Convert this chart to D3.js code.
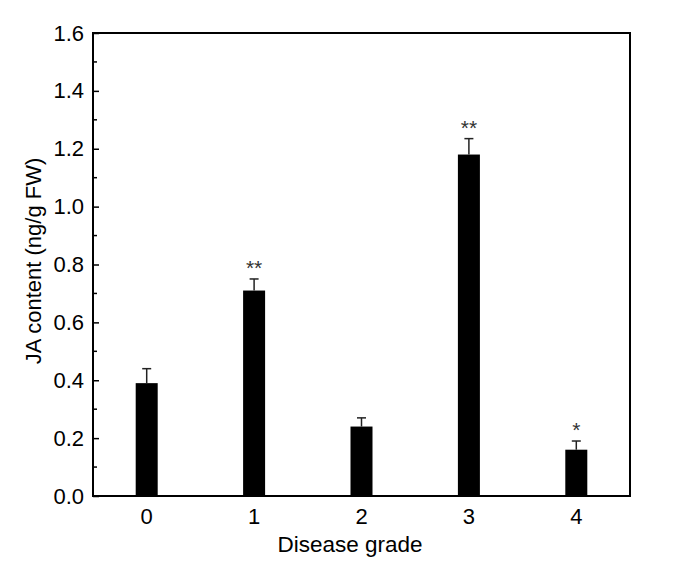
<!DOCTYPE html>
<html>
<head>
<meta charset="utf-8">
<script src="https://cdn.jsdelivr.net/npm/d3@7"></script>
<style>
  body { margin: 0; background: #fff; }
  text { font-family: "Liberation Sans", Arial, sans-serif; }
</style>
</head>
<body>
<div id="chart"></div>
<script>
const grades = [0, 1, 2, 3, 4];
const jaValues = [0.39, 0.71, 0.24, 1.18, 0.16];
const jaErrors = [0.05, 0.04, 0.03, 0.055, 0.03];
const marks = ["", "**", "", "**", "*"];
const yTicks = [0.0, 0.2, 0.4, 0.6, 0.8, 1.0, 1.2, 1.4, 1.6];

const width = 673, height = 567,
    margin = ({ top: 33, right: 43, bottom: 71, left: 93 });

let svg = d3.select("#chart")
    .append("svg")
    .attr("width", width)
    .attr("height", height);

let x = d3.scaleLinear()
    .domain([-0.5, 4.5])
    .range([margin.left, width - margin.right]);

let y = d3.scaleLinear()
    .domain([0, 1.6])
    .range([height - margin.bottom, margin.top]);

const barW = 22;

// bars
svg.selectAll(".bar")
    .data(grades)
    .join("rect")
    .attr("class", "bar")
    .attr("x", (d, i) => x(d) - barW / 2)
    .attr("width", barW)
    .attr("y", (d, i) => y(jaValues[i]))
    .attr("height", (d, i) => y(0) - y(jaValues[i]))
    .attr("fill", "#000");

// error bars (upper only)
let err = svg.selectAll(".err")
    .data(grades)
    .join("g")
    .attr("class", "err")
    .attr("stroke", "#222")
    .attr("stroke-width", 1.5);

err.append("line")
    .attr("x1", d => x(d)).attr("x2", d => x(d))
    .attr("y1", (d, i) => y(jaValues[i]))
    .attr("y2", (d, i) => y(jaValues[i] + jaErrors[i]));

err.append("line")
    .attr("x1", d => x(d) - 4.5).attr("x2", d => x(d) + 4.5)
    .attr("y1", (d, i) => y(jaValues[i] + jaErrors[i]))
    .attr("y2", (d, i) => y(jaValues[i] + jaErrors[i]));

// significance marks
svg.selectAll(".sig")
    .data(grades)
    .join("text")
    .attr("class", "sig")
    .attr("x", d => x(d))
    .attr("y", (d, i) => y(jaValues[i] + jaErrors[i]) - 4)
    .attr("text-anchor", "middle")
    .attr("font-size", 21)
    .attr("fill", "#333")
    .text((d, i) => marks[i]);

// left axis, inward ticks
let yAxis = svg.append("g")
    .attr("transform", `translate(${margin.left},0)`)
    .call(d3.axisLeft(y).tickValues(yTicks).tickFormat(d3.format(".1f")).tickSizeInner(-6).tickSizeOuter(0).tickPadding(9));
yAxis.select(".domain").remove();
yAxis.selectAll(".tick line").attr("stroke-width", 1.5);
yAxis.selectAll(".tick text").attr("font-size", 22).attr("fill", "#000");

// minor ticks
const minor = d3.range(0.1, 1.6, 0.2);
svg.selectAll(".minor")
    .data(minor)
    .join("line")
    .attr("class", "minor")
    .attr("x1", margin.left).attr("x2", margin.left + 4)
    .attr("y1", d => y(d)).attr("y2", d => y(d))
    .attr("stroke", "#000")
    .attr("stroke-width", 1.5);

// x labels
svg.selectAll(".xlab")
    .data(grades)
    .join("text")
    .attr("class", "xlab")
    .attr("x", d => x(d))
    .attr("y", 524)
    .attr("text-anchor", "middle")
    .attr("font-size", 22)
    .text(d => d);

// frame
svg.append("rect")
    .attr("x", margin.left)
    .attr("y", margin.top)
    .attr("width", width - margin.left - margin.right)
    .attr("height", height - margin.top - margin.bottom)
    .attr("fill", "none")
    .attr("stroke", "#000")
    .attr("stroke-width", 2);

svg.append("text")
    .attr("text-anchor", "middle")
    .attr("x", 350)
    .attr("y", 552)
    .attr("font-size", 22.5)
    .text("Disease grade");

svg.append("text")
    .attr("text-anchor", "middle")
    .attr("transform", `translate(41,261) rotate(-90)`)
    .attr("font-size", 22)
    .text("JA content (ng/g FW)");
</script>
</body>
</html>
